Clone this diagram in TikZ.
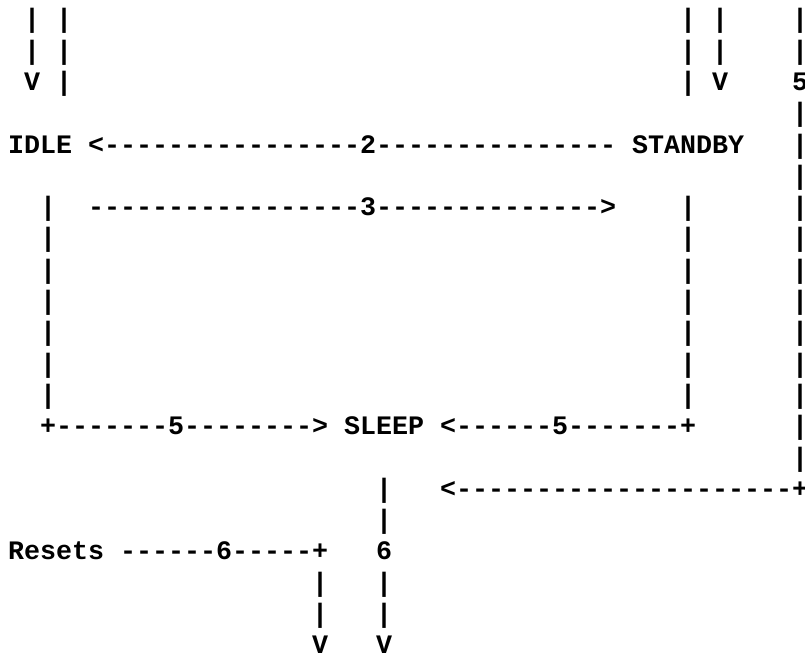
\documentclass[tikz,border=0pt]{standalone}
\usepackage{fontspec}
% Courier New metrics: every glyph is 0.6em wide
\newfontfamily\asciifont{Liberation Mono}[Ligatures=TeXOff]
\newcommand\hyphens[1]{\foreach \k in {1,...,#1}{-}}
\tikzset{
  glyphs/.style={anchor=base west, inner sep=0pt, outer sep=0pt,
    font=\asciifont\bfseries\fontsize{20}{23.5}\selectfont},
}
\begin{document}
% one x unit = one character cell, one y unit = one text line
\begin{tikzpicture}[x=12pt, y=-23.475pt]
\useasboundingbox (0,0) rectangle (50.3125,21.022);
\begin{scope}[shift={(0.5,0.888)}, every node/.style=glyphs]
  % incoming lines at the top
  \node (inL0) at (1,0) {| |};
  \node (inR0) at (42,0) {| |};
  \node (inE0) at (49,0) {|};
  \node (inL1) at (1,1) {| |};
  \node (inR1) at (42,1) {| |};
  \node (inE1) at (49,1) {|};
  \node (inL2) at (1,2) {V |};
  \node (inR2) at (42,2) {| V};
  \node (lab5e) at (49,2) {5};
  \node (edge3) at (49,3) {|};
  % IDLE and STANDBY
  \node (idle) at (0,4) {IDLE};
  \node (tr2) at (5,4) {<\hyphens{16}2\hyphens{15}};
  \node (standby) at (39,4) {STANDBY};
  \node (edge4) at (49,4) {|};
  \node (edge5) at (49,5) {|};
  \node (idledown6) at (2,6) {|};
  \node (tr3) at (5,6) {\hyphens{17}3\hyphens{14}>};
  \node (stbydown6) at (42,6) {|};
  \node (edge6) at (49,6) {|};
  \foreach \r in {7,...,12} {
    \node (idledown\r) at (2,\r) {|};
    \node (stbydown\r) at (42,\r) {|};
    \node (edge\r) at (49,\r) {|};
  }
  % SLEEP row
  \node (tr5a) at (2,13) {+\hyphens{7}5\hyphens{8}>};
  \node (sleep) at (21,13) {SLEEP};
  \node (tr5b) at (27,13) {<\hyphens{6}5\hyphens{7}+};
  \node (edge13) at (49,13) {|};
  \node (edge14) at (49,14) {|};
  \node (sleepdown15) at (23,15) {|};
  \node (tr5c) at (27,15) {<\hyphens{21}+};
  \node (sleepdown16) at (23,16) {|};
  % Resets row
  \node (resets) at (0,17) {Resets};
  \node (tr6a) at (7,17) {\hyphens{6}6\hyphens{5}+};
  \node (lab6b) at (23,17) {6};
  \node (rstdown18) at (19,18) {|};
  \node (sleepdown18) at (23,18) {|};
  \node (rstdown19) at (19,19) {|};
  \node (sleepdown19) at (23,19) {|};
  \node (rstout) at (19,20) {V};
  \node (sleepout) at (23,20) {V};
\end{scope}
\end{tikzpicture}
\end{document}
